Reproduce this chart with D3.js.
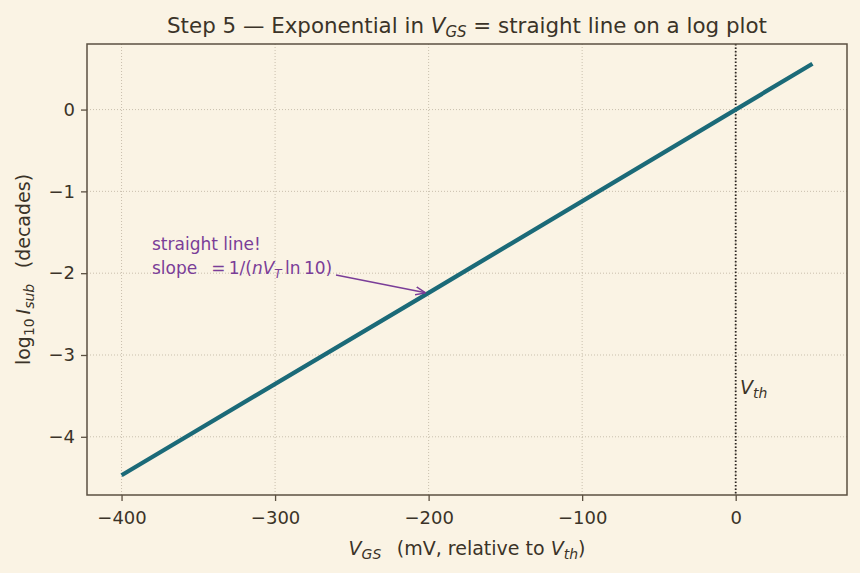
<!DOCTYPE html>
<html><head><meta charset="utf-8">
<script src="https://cdn.jsdelivr.net/npm/d3@7"></script>
<style>
html,body{margin:0;padding:0;background:#faf3e4;}
svg text{font-family:"DejaVu Sans",sans-serif;}
</style></head>
<body>
<svg id="c" width="860" height="573"></svg>
<script>
// Data
const vgs = [-400, -200, 0, 50];              // mV relative to Vth
const logI = [-4.47, -2.24, 0.0, 0.56];        // log10 I_sub (decades)
const xTicks = [-400, -300, -200, -100, 0];
const yTicks = [-4, -3, -2, -1, 0];
const arrowTip = {x: -200, y: -2.24};

const W = 860, H = 573;
const m = {l: 87, r: 13, t: 44, b: 78};
const svg = d3.select("#c");
svg.append("rect").attr("width", W).attr("height", H).attr("fill", "#faf3e4");

const x = d3.scaleLinear().domain([-422.5, 72.5]).range([m.l, W - m.r]);
const y = d3.scaleLinear().domain([-4.7115, 0.8015]).range([H - m.b, m.t]);

const ink = "#3b3328", spine = "#5b5041";
const g = svg.append("g");

// grid
g.selectAll(".gx").data(xTicks).join("line")
  .attr("x1", d => x(d)).attr("x2", d => x(d)).attr("y1", m.t).attr("y2", H - m.b)
  .attr("stroke", "#bdb3a0").attr("stroke-width", 0.8).attr("stroke-dasharray", "1,2");
g.selectAll(".gy").data(yTicks).join("line")
  .attr("y1", d => y(d)).attr("y2", d => y(d)).attr("x1", m.l).attr("x2", W - m.r)
  .attr("stroke", "#bdb3a0").attr("stroke-width", 0.8).attr("stroke-dasharray", "1,2");

// axes
const minus = d => d < 0 ? "\u2212" + Math.abs(d) : d;
const xAxis = d3.axisBottom(x).tickValues(xTicks).tickSize(6).tickPadding(10).tickFormat(minus);
const yAxis = d3.axisLeft(y).tickValues(yTicks).tickSize(6).tickPadding(6).tickFormat(minus);
const gx = svg.append("g").attr("transform", `translate(0,${H - m.b})`).call(xAxis);
const gy = svg.append("g").attr("transform", `translate(${m.l},0)`).call(yAxis);
[gx, gy].forEach(a => {
  a.attr("font-size", null).attr("font-family", null);
  a.select(".domain").remove();
  a.selectAll("line").attr("stroke", spine).attr("stroke-width", 1.3);
  a.selectAll("text").attr("fill", ink).style("font-size", "18px").style("font-family", "DejaVu Sans");
});

// Vth vertical line
svg.append("line").attr("x1", x(0)).attr("x2", x(0)).attr("y1", m.t).attr("y2", H - m.b)
  .attr("stroke", "#2b2520").attr("stroke-width", 1.8).attr("stroke-dasharray", "1.5,2");

// main line
svg.append("path").datum(vgs.map((v, i) => [v, logI[i]]))
  .attr("d", d3.line().x(d => x(d[0])).y(d => y(d[1])))
  .attr("fill", "none").attr("stroke", "#1b6a78").attr("stroke-width", 4.3);

// frame
svg.append("rect").attr("x", m.l).attr("y", m.t).attr("width", W - m.r - m.l).attr("height", H - m.b - m.t)
  .attr("fill", "none").attr("stroke", spine).attr("stroke-width", 1.5);

// annotation
const purple = "#7a3d98";
svg.append("defs").append("marker").attr("id", "ah").attr("viewBox", "0 0 10 10")
  .attr("refX", 10).attr("refY", 5).attr("markerWidth", 10).attr("markerHeight", 10)
  .attr("markerUnits", "userSpaceOnUse").attr("orient", "auto")
  .append("path").attr("d", "M0,1 L10,5 L0,9").attr("fill", "none").attr("stroke", purple).attr("stroke-width", 1.4);
svg.append("line").attr("x1", 336).attr("y1", 275).attr("x2", x(arrowTip.x) - 3).attr("y2", y(arrowTip.y))
  .attr("stroke", purple).attr("stroke-width", 1.5).attr("marker-end", "url(#ah)");
const ann = svg.append("text").attr("fill", purple).style("font-size", "17px");
ann.append("tspan").attr("x", 152).attr("y", 250).text("straight line!");
const l2 = ann.append("tspan").attr("x", 152).attr("y", 274);
l2.text("slope \u2002=\u20091/(");
ann.append("tspan").attr("font-style", "italic").text("nV");
ann.append("tspan").attr("font-style", "italic").style("font-size", "12px").attr("dy", 4).text("T");
ann.append("tspan").attr("dy", -4).text("\u2009ln\u200910)");

// Vth label
const vt = svg.append("text").attr("x", 740).attr("y", 394).attr("fill", ink).style("font-size", "19px");
vt.append("tspan").attr("font-style", "italic").text("V");
vt.append("tspan").attr("font-style", "italic").style("font-size", "14px").attr("dy", 4).text("th");

// title
const t = svg.append("text").attr("x", 467).attr("y", 33).attr("text-anchor", "middle").attr("fill", ink).style("font-size", "21.4px");
t.append("tspan").text("Step 5 \u2014 Exponential in ");
t.append("tspan").attr("font-style", "italic").text("V");
t.append("tspan").attr("font-style", "italic").style("font-size", "15px").attr("dy", 4).text("GS");
t.append("tspan").attr("dy", -4).text(" = straight line on a log plot");

// x label
const xl = svg.append("text").attr("x", 467).attr("y", 555).attr("text-anchor", "middle").attr("fill", ink).style("font-size", "19px");
xl.append("tspan").attr("font-style", "italic").text("V");
xl.append("tspan").attr("font-style", "italic").style("font-size", "14px").attr("dy", 4).text("GS");
xl.append("tspan").attr("dy", -4).text("\u2002 (mV, relative to ");
xl.append("tspan").attr("font-style", "italic").text("V");
xl.append("tspan").attr("font-style", "italic").style("font-size", "14px").attr("dy", 4).text("th");
xl.append("tspan").attr("dy", -4).text(")");

// y label
const yl = svg.append("text").attr("transform", `translate(30,${(m.t + H - m.b) / 2}) rotate(-90)`)
  .attr("text-anchor", "middle").attr("fill", ink).style("font-size", "19px");
yl.append("tspan").text("log");
yl.append("tspan").style("font-size", "14px").attr("dy", 4).text("10");
yl.append("tspan").attr("dy", -4).attr("font-style", "italic").text("\u2009I");
yl.append("tspan").attr("font-style", "italic").style("font-size", "14px").attr("dy", 4).text("sub");
yl.append("tspan").attr("dy", -4).text("\u2002 (decades)");
</script>
</body></html>
